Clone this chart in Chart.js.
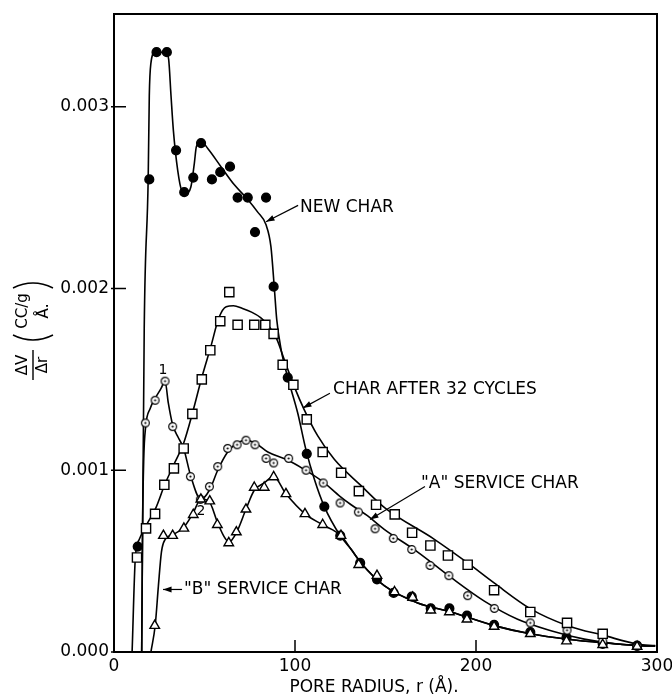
<!DOCTYPE html>
<html>
<head>
<meta charset="utf-8">
<script src="https://cdn.jsdelivr.net/npm/chart.js@4.4.1/dist/chart.umd.min.js"></script>
<style>
  html, body { margin: 0; padding: 0; background: #fff; }
  #wrap { width: 672px; height: 699px; position: relative; }
</style>
</head>
<body>
<div id="wrap"><canvas id="myChart"></canvas></div>
<script>
// pore radius r (Å) and ΔV/Δr in units of 0.001 cc/g/Å

// NEW CHAR (filled circles)
const newCharR = [13.1, 19.5, 23.5, 29.2, 34.3, 38.8, 43.8, 48.1, 54.1, 58.7, 64.1, 68.3, 73.9, 77.9, 84.0, 88.2,
  96.0, 106.5, 116.2, 125.0, 136.0, 145.3, 154.5, 164.5, 175.0, 185.3, 195.0, 210.0, 230.0, 250.0, 270.0, 289.0];
const newCharV = [0.58, 2.60, 3.30, 3.30, 2.76, 2.53, 2.61, 2.80, 2.60, 2.64, 2.67, 2.50, 2.50, 2.31, 2.50, 2.01,
  1.51, 1.09, 0.80, 0.64, 0.49, 0.40, 0.325, 0.305, 0.24, 0.24, 0.20, 0.15, 0.11, 0.08, 0.045, 0.035];
const newCurveR = [15.3, 16.7, 18.9, 19.5, 20.4, 22.3, 28.7, 30.2, 31.5, 32.8, 35.2, 37.4, 39.8, 42.5, 44.4, 45.5,
  48.1, 51.8, 59.1, 66.5, 73.9, 79.4, 84.0, 86.7, 88.6, 89.9, 92.3, 96.0, 101.5, 106.0, 110.7, 116.2, 125.0,
  131.0, 136.5, 149.3, 167.8, 186.2, 210.0, 230.0, 250.6, 271.0, 291.0, 299.0];
const newCurveV = [0, 1.78, 2.61, 3.06, 3.24, 3.295, 3.30, 3.26, 3.06, 2.87, 2.65, 2.54, 2.525, 2.56, 2.69, 2.78,
  2.81, 2.77, 2.67, 2.57, 2.49, 2.42, 2.35, 2.23, 2.00, 1.83, 1.665, 1.51, 1.315, 1.115, 0.95, 0.80, 0.64,
  0.565, 0.49, 0.365, 0.27, 0.22, 0.145, 0.10, 0.07, 0.05, 0.035, 0.033];

// CHAR AFTER 32 CYCLES (squares)
const cycledR = [12.7, 17.7, 22.7, 27.8, 33.1, 38.5, 43.3, 48.5, 53.2, 58.7, 63.7, 68.3, 77.5, 83.6, 88.2, 93.2,
  99.1, 106.5, 115.3, 125.5, 135.3, 144.8, 155.1, 164.7, 174.8, 184.5, 195.4, 210.0, 230.0, 250.3, 270.0];
const cycledV = [0.52, 0.68, 0.76, 0.92, 1.01, 1.12, 1.31, 1.50, 1.66, 1.82, 1.98, 1.80, 1.80, 1.80, 1.75, 1.58,
  1.47, 1.28, 1.10, 0.986, 0.885, 0.81, 0.757, 0.656, 0.586, 0.531, 0.48, 0.34, 0.22, 0.16, 0.10];
const cycledCurveR = [10.0, 11.8, 14.0, 18.0, 23.0, 28.0, 33.0, 38.5, 43.5, 48.5, 53.5, 58.0, 62.0, 66.0, 71.0,
  76.0, 81.0, 85.0, 90.0, 94.0, 99.6, 105.0, 112.5, 121.7, 136.5, 150.0, 177.0, 195.4, 210.0, 230.4, 250.6,
  271.0, 289.0, 299.0];
const cycledCurveV = [0, 0.52, 0.62, 0.70, 0.79, 0.92, 1.03, 1.15, 1.32, 1.51, 1.68, 1.84, 1.90, 1.905, 1.89,
  1.87, 1.84, 1.80, 1.72, 1.61, 1.46, 1.335, 1.19, 1.06, 0.915, 0.79, 0.62, 0.49, 0.38, 0.236, 0.145,
  0.09, 0.044, 0.035];

// "A" SERVICE CHAR (dotted open circles)
const serviceAR = [17.3, 22.7, 28.2, 32.4, 42.2, 47.7, 52.7, 57.3, 62.8, 68.0, 72.9, 77.9, 84.0, 88.2, 96.5,
  106.1, 115.6, 124.9, 135.0, 144.2, 154.3, 164.5, 174.6, 185.0, 195.4, 210.1, 230.0, 250.3, 270.0, 289.0];
const serviceAV = [1.26, 1.385, 1.49, 1.24, 0.965, 0.84, 0.91, 1.02, 1.12, 1.14, 1.165, 1.14, 1.065, 1.04, 1.065,
  1.00, 0.93, 0.82, 0.77, 0.678, 0.625, 0.564, 0.476, 0.42, 0.31, 0.24, 0.16, 0.12, 0.06, 0.03];
const serviceACurveR = [15.3, 15.8, 16.4, 17.5, 20.0, 23.0, 26.0, 28.2, 30.0, 32.4, 35.5, 38.5, 42.2, 48.0, 52.7,
  57.3, 62.8, 68.0, 73.0, 78.0, 85.0, 95.0, 105.0, 115.0, 125.0, 131.0, 140.0, 149.3, 167.8, 186.2, 204.6,
  223.0, 241.4, 259.8, 278.3, 299.0];
const serviceACurveV = [0, 0.70, 1.05, 1.24, 1.34, 1.40, 1.45, 1.49, 1.37, 1.25, 1.18, 1.12, 0.975, 0.84, 0.89,
  1.00, 1.10, 1.15, 1.165, 1.15, 1.10, 1.06, 1.005, 0.94, 0.855, 0.81, 0.75, 0.675, 0.55, 0.41, 0.28,
  0.18, 0.117, 0.071, 0.044, 0.033];

// "B" SERVICE CHAR (open triangles)
const serviceBR = [22.5, 27.3, 32.4, 38.6, 43.8, 48.0, 52.9, 57.1, 63.4, 67.6, 72.9, 77.5, 83.0, 88.2, 95.0,
  105.5, 115.3, 125.4, 135.2, 145.3, 155.0, 165.0, 175.0, 185.3, 195.0, 210.0, 230.0, 250.0, 270.0, 289.0];
const serviceBV = [0.145, 0.64, 0.64, 0.68, 0.755, 0.84, 0.83, 0.70, 0.60, 0.66, 0.785, 0.905, 0.905, 0.963, 0.87,
  0.76, 0.70, 0.64, 0.48, 0.42, 0.33, 0.30, 0.23, 0.22, 0.18, 0.14, 0.10, 0.06, 0.04, 0.03];
const serviceBCurveR = [20.4, 22.8, 24.5, 26.2, 28.3, 32.4, 38.5, 43.5, 48.0, 52.0, 57.3, 60.5, 63.5, 67.8, 72.9,
  77.5, 83.0, 88.2, 95.0, 105.5, 115.3, 125.4, 131.0, 136.5, 149.3, 167.8, 186.2, 210.0, 230.0, 250.6,
  271.0, 291.0, 299.0];
const serviceBCurveV = [0, 0.15, 0.36, 0.55, 0.62, 0.645, 0.685, 0.76, 0.84, 0.835, 0.71, 0.64, 0.605, 0.66, 0.785,
  0.89, 0.93, 0.965, 0.87, 0.76, 0.70, 0.64, 0.565, 0.49, 0.365, 0.27, 0.22, 0.145, 0.10, 0.07,
  0.05, 0.035, 0.033];

const xTicks = [0, 100, 200, 300];
const yTickLabels = ['0.000', '0.001', '0.002', '0.003'];

const FONT = '"DejaVu Sans", "Liberation Sans", sans-serif';

function pts(xs, ys) {
  return xs.map((x, i) => ({ x: x, y: ys[i] }));
}

// open circle with a dot in the middle
function dotCircle() {
  const c = document.createElement('canvas');
  c.width = 11; c.height = 11;
  const g = c.getContext('2d');
  g.fillStyle = '#fff';
  g.strokeStyle = '#000';
  g.lineWidth = 1.2;
  g.beginPath(); g.arc(5.5, 5.5, 3.9, 0, 2 * Math.PI); g.fill(); g.stroke();
  g.fillStyle = '#000';
  g.beginPath(); g.arc(5.5, 5.5, 1.1, 0, 2 * Math.PI); g.fill();
  return c;
}

function curve(xs, ys) {
  return {
    data: pts(xs, ys), showLine: true, pointRadius: 0, borderColor: '#000', borderWidth: 1.6,
    tension: 0.4, cubicInterpolationMode: 'monotone', fill: false, order: 5
  };
}

function markers(xs, ys, style, radius, bg) {
  return {
    data: pts(xs, ys), showLine: false, pointStyle: style, pointRadius: radius,
    pointBackgroundColor: bg, pointBorderColor: '#000', pointBorderWidth: 1.4, order: 1
  };
}

// annotation texts, placed in data units
const notes = [
  { text: 'NEW CHAR', x: 102.8, y: 2.446, from: [101.7, 2.457], to: [84.0, 2.367] },
  { text: 'CHAR AFTER 32 CYCLES', x: 121.0, y: 1.445, from: [119.3, 1.423], to: [104.4, 1.343] },
  { text: '"A" SERVICE CHAR', x: 169.6, y: 0.927, from: [171.8, 0.911], to: [141.4, 0.729] },
  { text: '"B" SERVICE CHAR', x: 38.7, y: 0.344, from: [37.6, 0.344], to: [27.1, 0.344] }
];
const marks = [
  { text: '1', x: 27.1, y: 1.549 },
  { text: '2', x: 48.1, y: 0.773 }
];

function arrow(ctx, x1, y1, x2, y2) {
  ctx.beginPath(); ctx.moveTo(x1, y1); ctx.lineTo(x2, y2); ctx.stroke();
  const a = Math.atan2(y2 - y1, x2 - x1);
  ctx.beginPath();
  ctx.moveTo(x2, y2);
  ctx.lineTo(x2 - 9 * Math.cos(a - 0.33), y2 - 9 * Math.sin(a - 0.33));
  ctx.lineTo(x2 - 9 * Math.cos(a + 0.33), y2 - 9 * Math.sin(a + 0.33));
  ctx.closePath();
  ctx.fill();
}

const framePlugin = {
  id: 'frame',
  afterDraw(chart) {
    const ctx = chart.ctx;
    const a = chart.chartArea;
    const xs = chart.scales.x, ys = chart.scales.y;
    ctx.save();
    ctx.strokeStyle = '#000';
    ctx.fillStyle = '#000';
    ctx.lineWidth = 2;
    ctx.strokeRect(a.left, a.top, a.right - a.left, a.bottom - a.top);

    // ticks pointing into the plot
    ctx.lineWidth = 1.5;
    ctx.beginPath();
    xs.ticks.forEach(t => {
      const px = xs.getPixelForValue(t.value);
      ctx.moveTo(px, a.bottom); ctx.lineTo(px, a.bottom - 12);
    });
    ys.ticks.forEach(t => {
      const py = ys.getPixelForValue(t.value);
      ctx.moveTo(a.left - 3, py); ctx.lineTo(a.left + 12, py);
    });
    ctx.stroke();

    // curve labels with arrows
    ctx.font = '17px ' + FONT;
    ctx.textAlign = 'left';
    ctx.textBaseline = 'middle';
    ctx.lineWidth = 1.2;
    notes.forEach(n => {
      ctx.fillText(n.text, xs.getPixelForValue(n.x), ys.getPixelForValue(n.y));
      arrow(ctx, xs.getPixelForValue(n.from[0]), ys.getPixelForValue(n.from[1]),
        xs.getPixelForValue(n.to[0]), ys.getPixelForValue(n.to[1]));
    });
    ctx.font = '14px ' + FONT;
    ctx.textAlign = 'center';
    marks.forEach(m => ctx.fillText(m.text, xs.getPixelForValue(m.x), ys.getPixelForValue(m.y)));

    // x title
    ctx.font = '17px ' + FONT;
    ctx.fillText('PORE RADIUS, r (Å).', 374, 688);

    // y title:  ΔV/Δr (CC/g / Å.)
    ctx.translate(33, 335);
    ctx.rotate(-Math.PI / 2);
    ctx.font = '15px ' + FONT;
    ctx.fillText('ΔV', -30, -10);
    ctx.fillText('Δr', -30, 10);
    ctx.fillText('CC/g', 24, -10);
    ctx.fillText('Å.', 24, 11);
    ctx.lineWidth = 1.4;
    ctx.beginPath();
    ctx.moveTo(-45, 0); ctx.lineTo(-15, 0);
    ctx.moveTo(0, -20); ctx.quadraticCurveTo(-10, 0, 0, 20);
    ctx.moveTo(47, -20); ctx.quadraticCurveTo(57, 0, 47, 20);
    ctx.stroke();
    ctx.restore();
  }
};

new Chart(document.getElementById('myChart'), {
  type: 'scatter',
  data: {
    datasets: [
      curve(newCurveR, newCurveV),
      curve(cycledCurveR, cycledCurveV),
      curve(serviceACurveR, serviceACurveV),
      curve(serviceBCurveR, serviceBCurveV),
      markers(cycledR, cycledV, 'rect', 6.5, '#fff'),
      markers(serviceBR, serviceBV, 'triangle', 5.5, '#fff'),
      markers(serviceAR, serviceAV, dotCircle(), 4, '#fff'),
      markers(newCharR, newCharV, 'circle', 4.4, '#000')
    ]
  },
  options: {
    responsive: true,
    maintainAspectRatio: false,
    animation: false,
    layout: { padding: { top: 14, right: 15, left: 0, bottom: 0 } },
    plugins: { legend: { display: false }, tooltip: { enabled: false } },
    scales: {
      x: {
        type: 'linear', min: 0, max: 300,
        grid: { display: false, drawTicks: false },
        border: { color: '#000', width: 2 },
        afterBuildTicks(s) { s.ticks = xTicks.map(v => ({ value: v })); },
        ticks: { color: '#000', font: { family: FONT, size: 17 }, padding: 4, maxRotation: 0 },
        afterFit(s) { s.height = 47; s.paddingLeft = 0; s.paddingRight = 0; }
      },
      y: {
        type: 'linear', min: 0, max: 3.51,
        grid: { display: false, drawTicks: false },
        border: { color: '#000', width: 2 },
        ticks: {
          stepSize: 1, includeBounds: false, color: '#000', padding: 5,
          font: { family: FONT, size: 17 },
          callback: (v) => yTickLabels[v]
        },
        afterFit(s) { s.width = 114; s.paddingTop = 0; s.paddingBottom = 0; }
      }
    }
  },
  plugins: [framePlugin]
});
</script>
</body>
</html>
